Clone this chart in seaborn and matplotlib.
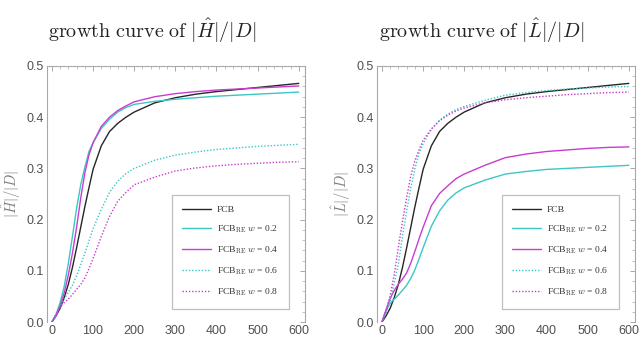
import numpy as np
import pandas as pd
import matplotlib
matplotlib.use("Agg")
import matplotlib.pyplot as plt
import seaborn as sns
from matplotlib.ticker import MultipleLocator

# ---------------------------------------------------
# DATA
# ---------------------------------------------------

steps = [0, 10, 20, 30, 40, 50, 60, 70, 80, 90, 100, 120, 140, 160, 180, 200,
         250, 300, 350, 400, 450, 500, 550, 600]

fcb = [0, 0.012, 0.027, 0.048, 0.074, 0.107, 0.145, 0.185, 0.225, 0.262, 0.298, 0.344,
       0.372, 0.388, 0.400, 0.410, 0.428, 0.438, 0.445, 0.450, 0.454, 0.458, 0.462, 0.466]

# left panel: |H|/|D|
h_w02 = [0, 0.015, 0.038, 0.070, 0.115, 0.168, 0.222, 0.268, 0.302, 0.333, 0.350, 0.378,
         0.396, 0.410, 0.419, 0.425, 0.431, 0.435, 0.438, 0.441, 0.443, 0.445, 0.447, 0.449]
h_w04 = [0, 0.012, 0.032, 0.057, 0.092, 0.135, 0.185, 0.242, 0.291, 0.326, 0.350, 0.382,
         0.400, 0.413, 0.422, 0.430, 0.440, 0.446, 0.450, 0.453, 0.455, 0.457, 0.459, 0.461]
h_w06 = [0, 0.014, 0.030, 0.045, 0.058, 0.072, 0.090, 0.112, 0.134, 0.158, 0.182, 0.220,
         0.253, 0.275, 0.290, 0.300, 0.316, 0.326, 0.332, 0.337, 0.340, 0.343, 0.345, 0.347]
h_w08 = [0, 0.016, 0.030, 0.038, 0.045, 0.054, 0.064, 0.073, 0.086, 0.104, 0.124, 0.167,
         0.206, 0.236, 0.253, 0.268, 0.283, 0.295, 0.301, 0.305, 0.308, 0.310, 0.312, 0.313]

# right panel: |L|/|D|
l_w02 = [0, 0.022, 0.037, 0.045, 0.053, 0.062, 0.072, 0.085, 0.102, 0.123, 0.145, 0.187,
         0.217, 0.238, 0.252, 0.262, 0.277, 0.289, 0.294, 0.298, 0.300, 0.302, 0.304, 0.306]
l_w04 = [0, 0.024, 0.046, 0.062, 0.074, 0.084, 0.096, 0.115, 0.138, 0.162, 0.185, 0.227,
         0.251, 0.266, 0.280, 0.289, 0.306, 0.321, 0.328, 0.333, 0.336, 0.339, 0.341, 0.342]
l_w06 = [0, 0.018, 0.042, 0.076, 0.114, 0.168, 0.217, 0.262, 0.299, 0.329, 0.348, 0.376,
         0.394, 0.406, 0.415, 0.421, 0.433, 0.443, 0.448, 0.452, 0.455, 0.457, 0.459, 0.460]
l_w08 = [0, 0.022, 0.052, 0.094, 0.147, 0.197, 0.243, 0.285, 0.315, 0.336, 0.355, 0.377,
         0.393, 0.404, 0.412, 0.418, 0.428, 0.434, 0.438, 0.441, 0.444, 0.446, 0.448, 0.449]

labels = ["FCB",
          r"FCB$_{\mathrm{RE}}$ $w$ = 0.2",
          r"FCB$_{\mathrm{RE}}$ $w$ = 0.4",
          r"FCB$_{\mathrm{RE}}$ $w$ = 0.6",
          r"FCB$_{\mathrm{RE}}$ $w$ = 0.8"]

titles = [r"$\mathrm{growth\ curve\ of\ }|\hat{H}|/|D|$",
          r"$\mathrm{growth\ curve\ of\ }|\hat{L}|/|D|$"]
ylabels = [r"$|\hat{H}|/|D|$", r"$|\hat{L}|/|D|$"]

# ---------------------------------------------------
# STYLE
# ---------------------------------------------------

sns.set_style("white")
plt.rcParams["font.family"] = ["Liberation Sans", "DejaVu Sans"]
plt.rcParams["mathtext.fontset"] = "cm"

BLACK = "#262626"
CYAN = "#3cc6c6"
MAGENTA = "#c93ccf"
FRAME = "#a8a8a8"
TICKTXT = "#505050"

colors = [BLACK, CYAN, MAGENTA, CYAN, MAGENTA]
styles = ["-", "-", "-", (0, (1, 1.3)), (0, (1, 1.3))]

fig = plt.figure(figsize=(6.4, 3.37), dpi=100)
ax_l = fig.add_axes([0.0734, 0.0445, 0.4031, 0.7597])
ax_r = fig.add_axes([0.5891, 0.0445, 0.4031, 0.7597])

panels = [
    (ax_l, [fcb, h_w02, h_w04, h_w06, h_w08]),
    (ax_r, [fcb, l_w02, l_w04, l_w06, l_w08]),
]

# ---------------------------------------------------
# DRAW
# ---------------------------------------------------

for i, (ax, series) in enumerate(panels):
    for vals, col, ls, lab in zip(series, colors, styles, labels):
        sns.lineplot(x=steps, y=vals, ax=ax, color=col, linestyle=ls,
                     linewidth=1.0, label=lab)

    ax.set_xlim(-12, 615)
    ax.set_ylim(0, 0.5)
    ax.xaxis.set_major_locator(MultipleLocator(100))
    ax.xaxis.set_minor_locator(MultipleLocator(20))
    ax.yaxis.set_major_locator(MultipleLocator(0.1))
    ax.yaxis.set_minor_locator(MultipleLocator(0.02))
    ax.yaxis.set_major_formatter(matplotlib.ticker.FormatStrFormatter("%.1f"))

    ax.tick_params(which="both", direction="in", top=True, right=True,
                   color=FRAME, labelcolor=TICKTXT, labelsize=9)
    ax.tick_params(which="major", length=3.5, width=0.7, pad=2)
    ax.tick_params(which="minor", length=2, width=0.5)

    for side in ["left", "right", "top"]:
        ax.spines[side].set_color(FRAME)
        ax.spines[side].set_linewidth(0.8)
    ax.spines["bottom"].set_visible(False)

    ax.set_xlabel("")
    ax.set_ylabel(ylabels[i], color="#808080", fontsize=10.5, labelpad=3)

    leg = ax.legend(loc="lower right", bbox_to_anchor=(0.938, 0.05),
                    borderaxespad=0, frameon=True, fancybox=False,
                    prop={"family": "Liberation Serif", "size": 6.8},
                    handlelength=3.0, handletextpad=0.65, labelspacing=1.0,
                    borderpad=1.15)
    leg.get_frame().set_edgecolor("#b0b0b0")
    leg.get_frame().set_linewidth(0.9)
    for t in leg.get_texts():
        t.set_color("#333333")

fig.text(0.238, 0.91, titles[0], ha="center", va="center", fontsize=14.5, color="#222222")
fig.text(0.753, 0.91, titles[1], ha="center", va="center", fontsize=14.5, color="#222222")

plt.savefig("out.png", dpi=100)
plt.close()
